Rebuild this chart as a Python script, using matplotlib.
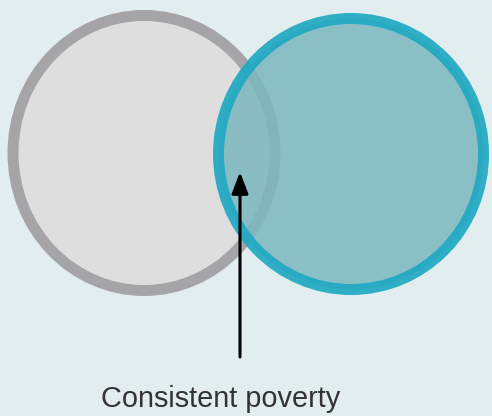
import matplotlib
matplotlib.use('Agg')
import matplotlib.pyplot as plt
from matplotlib.patches import Ellipse

# circle geometry in pixel units (centre x, centre y, width, height)
left_circle = [144, 153, 262, 275]
right_circle = [351, 154, 265, 271]
label = 'Consistent poverty'
arrow_from = [240, 357]
arrow_to = [240, 172]

bg = '#e1edef'

fig = plt.figure(figsize=(4.92, 4.16), dpi=100)
fig.patch.set_facecolor(bg)
ax = fig.add_axes([0, 0, 1, 1])
ax.set_facecolor(bg)
ax.set_xlim(0, 492)
ax.set_ylim(416, 0)
ax.axis('off')

lw = 11 * 72 / 100

ax.add_patch(Ellipse((left_circle[0], left_circle[1]), left_circle[2], left_circle[3],
                     facecolor='#dedede', edgecolor='#a5a5a8', linewidth=lw))
ax.add_patch(Ellipse((right_circle[0], right_circle[1]), right_circle[2], right_circle[3],
                     facecolor=(124/255, 183/255, 191/255, 0.85),
                     edgecolor=(33/255, 169/255, 194/255, 0.93), linewidth=lw))

ax.annotate('', xy=arrow_to, xytext=arrow_from,
            arrowprops=dict(arrowstyle='-|>,head_length=1.3,head_width=0.5',
                            color='black', lw=2.2, shrinkA=0, shrinkB=0))

ax.text(221, 399, label, ha='center', va='center',
        fontsize=20.8, color='#333333', family=['Liberation Sans', 'DejaVu Sans'])

fig.savefig('out.png', dpi=100, facecolor=bg)
